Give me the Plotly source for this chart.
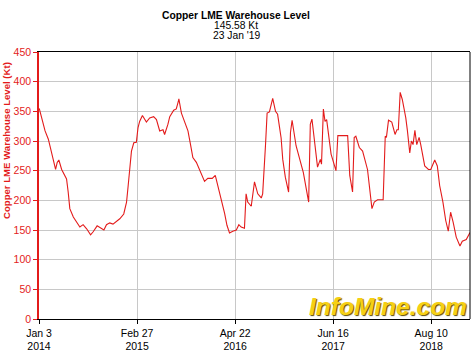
import pandas as pd
import plotly.graph_objects as go

# days after 2014-01-03
day_offsets = [1, 26, 40, 54, 65, 71, 78, 85, 97, 111, 118, 125, 132, 147, 161, 175, 189, 204, 221, 232,
               249, 264, 278, 289, 303, 317, 332, 346, 363, 375, 382, 389, 396, 406, 417, 424, 431, 443, 460, 474,
               491, 503, 517, 531, 538, 552, 560, 577, 588, 597, 599, 610, 624, 638, 649, 659, 674, 691, 709, 723,
               742, 755, 766, 781, 795, 805, 816, 830, 845, 856, 866, 880, 887, 894, 909, 923, 937, 952, 958, 970,
               977, 987, 1001, 1013, 1022, 1037, 1044, 1055, 1069, 1077, 1084, 1101, 1122, 1132, 1155, 1162, 1169, 1183, 1193, 1205,
               1210, 1218, 1225, 1232, 1243, 1251, 1272, 1280, 1322, 1331, 1343, 1350, 1357, 1372, 1386, 1393, 1407, 1426, 1436, 1450,
               1474, 1483, 1488, 1497, 1511, 1525, 1533, 1539, 1547, 1556, 1564, 1571, 1578, 1588, 1595, 1602, 1610, 1618, 1628, 1635,
               1652, 1668, 1678, 1695, 1706, 1716, 1730, 1742, 1753, 1763, 1774, 1787, 1803, 1813, 1830, 1846]
levels_kt = [355, 317, 303, 281, 266, 252, 264, 268, 252, 241, 236, 214, 186, 172, 163, 155, 159, 152, 142, 147,
             157, 153, 150, 159, 162, 160, 164, 169, 177, 197, 225, 252, 283, 297, 298, 322, 333, 343, 332, 339,
             341, 336, 317, 319, 311, 328, 341, 352, 354, 367, 371, 347, 333, 317, 294, 272, 264, 247, 232, 237,
             237, 242, 225, 202, 178, 158, 145, 148, 150, 159, 155, 153, 211, 197, 190, 231, 211, 204, 211, 292,
             347, 349, 372, 350, 345, 305, 269, 239, 214, 314, 335, 292, 264, 247, 197, 328, 337, 292, 256, 269,
             261, 354, 333, 336, 304, 278, 250, 309, 309, 242, 214, 306, 308, 289, 283, 272, 252, 186, 197, 201,
             201, 308, 306, 335, 332, 311, 319, 319, 382, 370, 353, 339, 317, 280, 300, 294, 318, 294, 306, 294,
             258, 252, 252, 268, 258, 225, 197, 166, 148, 180, 163, 138, 123, 131, 134, 145.58]

tick_dates = ["2014-01-03", "2015-02-27", "2016-04-22", "2017-06-16", "2018-08-10"]
tick_labels = ["Jan 3<br>2014", "Feb 27<br>2015", "Apr 22<br>2016", "Jun 16<br>2017", "Aug 10<br>2018"]
y_ticks = [0, 50, 100, 150, 200, 250, 300, 350, 400, 450]
title_lines = ["<b>Copper LME Warehouse Level</b>", "145.58 Kt", "23 Jan '19"]

dates = pd.Timestamp("2014-01-03") + pd.to_timedelta(day_offsets, unit="D")

RED = "#e31b1b"
FONT = "Liberation Sans, Arial, sans-serif"

fig = go.Figure()
fig.add_trace(go.Scatter(x=dates, y=levels_kt, mode="lines",
                         line=dict(color=RED, width=1.1), hoverinfo="skip"))

annotations = []
for i, (txt, yy) in enumerate(zip(title_lines, [1.1375, 1.0985, 1.0613])):
    annotations.append(dict(text=txt, xref="paper", yref="paper", x=0.458, y=yy,
                            xanchor="center", yanchor="middle", showarrow=False,
                            font=dict(family=FONT, size=10.3, color="black")))
annotations.append(dict(text="<b>Copper LME Warehouse Level (Kt)</b>", xref="paper", yref="paper",
                        x=-0.074, y=0.667, xanchor="center", yanchor="middle", textangle=-90,
                        showarrow=False, font=dict(family=FONT, size=9.6, color=RED)))
annotations.append(dict(text="<b><i>InfoMine.com</i></b>", xref="paper", yref="paper",
                        x=0.8086, y=-0.012, xanchor="center", yanchor="bottom", showarrow=False,
                        font=dict(family=FONT, size=24.5, color="#f6d014",
                                  shadow="1px 1px 1px #5a4a00")))

fig.update_layout(
    width=472, height=354,
    margin=dict(l=39, r=2, t=52, b=33),
    paper_bgcolor="white", plot_bgcolor="white",
    showlegend=False,
    font=dict(family=FONT, size=11, color="black"),
    xaxis=dict(
        type="date",
        range=["2014-01-03", "2019-01-23"],
        tickvals=tick_dates, ticktext=tick_labels,
        showgrid=True, gridcolor="#c8c8c8", gridwidth=1,
        showline=True, linecolor="black", linewidth=1, mirror=True,
        ticks="outside", ticklen=4, tickcolor="black",
        tickfont=dict(size=10.5, color="black"),
        zeroline=False,
    ),
    yaxis=dict(
        range=[0, 450], tickvals=y_ticks,
        showgrid=True, gridcolor="#c8c8c8", gridwidth=1,
        showline=True, linecolor=RED, linewidth=1.5,
        ticks="outside", ticklen=4, tickcolor=RED,
        tickfont=dict(size=10.5, color=RED),
        zeroline=False,
    ),
    shapes=[dict(type="line", xref="paper", yref="paper", x0=1, x1=1, y0=0, y1=1,
                 line=dict(color="black", width=1))],
    annotations=annotations,
)

fig.write_html("out.html", config={"displayModeBar": False},
               post_script="document.body.style.margin='0';document.body.style.overflow='hidden';")
